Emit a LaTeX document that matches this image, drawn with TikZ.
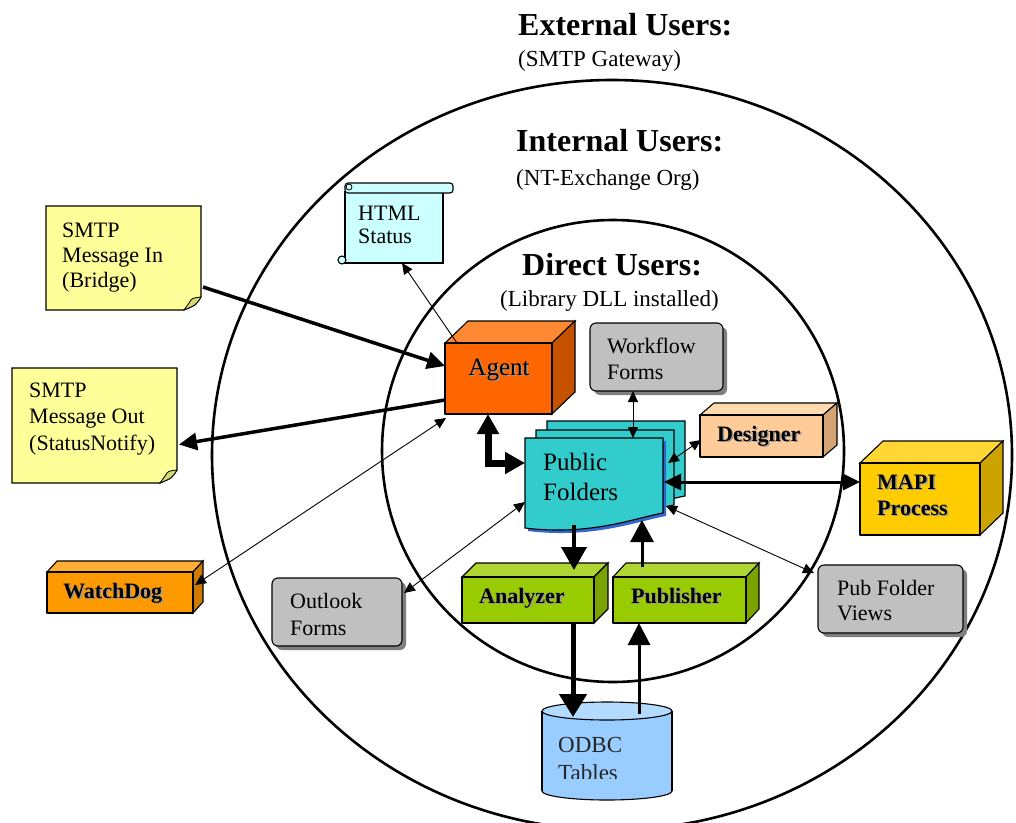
\documentclass[tikz,border=0pt]{standalone}
\usepackage{fontspec}
\setmainfont{Liberation Serif}
\usetikzlibrary{arrows.meta,calc,shadows}
\pgfdeclarelayer{bg}
\pgfdeclarelayer{shapes}
\pgfsetlayers{bg,shapes,main}
\definecolor{noteyellow}{HTML}{FFFF99}
\definecolor{notefold}{HTML}{D6D66B}
\definecolor{htmlcyan}{HTML}{CCFFFF}
\definecolor{agentfront}{HTML}{FF6600}
\definecolor{agenttop}{HTML}{FF8833}
\definecolor{agentside}{HTML}{C65200}
\definecolor{boxgray}{HTML}{C0C0C0}
\definecolor{shadowgray}{HTML}{7F7F7F}
\definecolor{desfront}{HTML}{FFCC99}
\definecolor{destop}{HTML}{FFD9B0}
\definecolor{desside}{HTML}{D4A475}
\definecolor{pfteal}{HTML}{33CCCC}
\definecolor{pfshadow}{HTML}{3366CC}
\definecolor{mapifront}{HTML}{FFCC00}
\definecolor{mapitop}{HTML}{FFD633}
\definecolor{mapiside}{HTML}{CCA300}
\definecolor{grnfront}{HTML}{99CC00}
\definecolor{grntop}{HTML}{B0D633}
\definecolor{grnside}{HTML}{7AA300}
\definecolor{wdfront}{HTML}{FF9900}
\definecolor{wdtop}{HTML}{FFAD33}
\definecolor{wdside}{HTML}{CC7A00}
\definecolor{odbcblue}{HTML}{99CCFF}
\definecolor{odbctop}{HTML}{B3DAFF}
\newcommand\shd[1]{\leavevmode\rlap{\kern1.5pt\raisebox{-1.5pt}{\textcolor{black!40}{#1}}}#1}
\newcommand\cubefaces[5]{%
  \begin{pgfonlayer}{shapes}
  \filldraw[face,fill=#4] (#1.north west) -- ($(#1.north west)+(#2,-#3)$) -- ($(#1.north east)+(#2,-#3)$) -- (#1.north east) -- cycle;
  \filldraw[face,fill=#5] (#1.north east) -- ($(#1.north east)+(#2,-#3)$) -- ($(#1.south east)+(#2,-#3)$) -- (#1.south east) -- cycle;
  \end{pgfonlayer}}
\newcommand\notefill[1]{%
  \begin{pgfonlayer}{shapes}
  \filldraw[face,fill=noteyellow] (#1.north west) -- (#1.north east) -- ($(#1.south east)+(0,-13)$) .. controls ($(#1.south east)+(-5,-5)$) .. ($(#1.south east)+(-17,0)$) -- (#1.south west) -- cycle;
  \filldraw[face,line width=0.8pt,fill=notefold] ($(#1.south east)+(0,-13)$) .. controls ($(#1.south east)+(-9,-12)$) .. ($(#1.south east)+(-12,-7)$) .. controls ($(#1.south east)+(-14,-4)$) .. ($(#1.south east)+(-17,0)$) .. controls ($(#1.south east)+(-5,-5)$) .. ($(#1.south east)+(0,-13)$) -- cycle;
  \end{pgfonlayer}}
\begin{document}
\begin{tikzpicture}[x=1pt,y=-1pt,line join=round,
  face/.style={draw=black,line width=1.1pt},
  frontbox/.style={face,inner sep=0pt,outer sep=0pt},
  holder/.style={inner sep=0pt,outer sep=0pt},
  graybox/.style={frontbox,fill=boxgray,rounded corners=6pt,
    drop shadow={shadow xshift=4pt,shadow yshift=-4pt,fill=shadowgray,opacity=1}},
  lbl/.style={font=\fontsize{22}{26}\selectfont,align=left,inner sep=0pt,anchor=base west},
  blbl/.style={font=\fontsize{22}{26}\selectfont\bfseries,align=left,inner sep=0pt,anchor=base west},
  head/.style={font=\fontsize{32}{36}\selectfont\bfseries,inner sep=0pt,anchor=base west},
  sub/.style={font=\fontsize{23}{26}\selectfont,inner sep=0pt,anchor=base west},
  ring/.style={line width=2.6pt},
  thin/.style={line width=0.9pt},
  sarr/.style={thin,-{Triangle[length=11pt,width=10pt]}},
  dsarr/.style={thin,{Triangle[length=11pt,width=10pt]}-{Triangle[length=11pt,width=10pt]}}]
\useasboundingbox (0,0) rectangle (1016,822);

% rings
\begin{pgfonlayer}{bg}
\draw[ring] (612,455) ellipse [x radius=400, y radius=375];
\draw[ring] (613,451) circle [radius=231];
\end{pgfonlayer}

% headings
\node[head] (ext) at (518,35) {External Users:};
\node[sub] (exts) at (518,66) {(SMTP Gateway)};
\node[head] (int) at (516,151) {Internal Users:};
\node[sub] (ints) at (516,185) {(NT-Exchange Org)};
\node[head] (dir) at (522,275) {Direct Users:};
\node[sub] (dirs) at (500,306) {(Library DLL installed)};

% notes (multi-line nodes: base = baseline of the last line)
\node[holder,minimum width=155pt,minimum height=104pt] (smtpin) at (123.5,258) {};
\notefill{smtpin}
\node[lbl,font=\fontsize{22}{25}\selectfont] (smtpint) at (62,287) {SMTP\\Message In\\(Bridge)};
\node[holder,minimum width=165pt,minimum height=115pt] (smtpout) at (94.5,425.5) {};
\notefill{smtpout}
\node[lbl,font=\fontsize{22}{26.5}\selectfont] (smtpoutt) at (29,450) {SMTP\\Message Out\\(StatusNotify)};

% HTML scroll
\node[holder,minimum width=98pt,minimum height=71pt] (html) at (394,227.5) {};
\begin{pgfonlayer}{shapes}
\filldraw[face,fill=htmlcyan] (html.north west) rectangle (html.south east);
\filldraw[face,fill=htmlcyan,rounded corners=3pt] ($(html.north west)+(0,-9)$) rectangle ($(html.north east)+(10,1)$);
\draw[face,line width=0.8pt] ($(html.north west)+(4,-5)$) circle [radius=3];
\filldraw[face,fill=htmlcyan] ($(html.south west)+(-3,-3)$) circle [radius=4];
\end{pgfonlayer}
\node[lbl,font=\fontsize{22}{23}\selectfont] (htmlt) at (358,243) {HTML\\Status};

% Agent
\node[frontbox,fill=agentfront,minimum width=107pt,minimum height=71pt] (agent) at (498.5,378.5) {};
\cubefaces{agent}{23}{22}{agenttop}{agentside}
\node[lbl,font=\fontsize{25}{28}\selectfont,anchor=base] (agentt) at (499,375) {\shd{Agent}};

% Workflow forms
\node[graybox,minimum width=133pt,minimum height=68pt] (workflow) at (656.5,357) {};
\node[lbl] (workflowt) at (607,379) {Workflow\\Forms};

% Designer
\node[frontbox,fill=desfront,minimum width=123pt,minimum height=42pt] (designer) at (761.5,436) {};
\cubefaces{designer}{14}{12}{destop}{desside}
\node[blbl] (designert) at (717,441) {\shd{Designer}};

% Public folders
\node[holder,minimum width=138pt,minimum height=90pt] (pf) at (594,483) {};
\begin{pgfonlayer}{shapes}
\filldraw[face,fill=pfteal] (547,421) -- (685,421) -- (685,496) .. controls (657,501) and (612,519) .. (547,511) -- cycle;
\filldraw[face,fill=pfteal] (536,430) -- (674,430) -- (674,505) .. controls (646,510) and (601,528) .. (536,520) -- cycle;
\fill[pfshadow] (528,441) -- (666,441) -- (666,516) .. controls (638,521) and (593,539) .. (528,531) -- cycle;
\filldraw[face,fill=pfteal] (525,438) -- (663,438) -- (663,513) .. controls (635,518) and (590,536) .. (525,528) -- cycle;
\end{pgfonlayer}
\node[lbl,font=\fontsize{25}{30}\selectfont] (pft) at (543,500) {Public\\Folders};

% MAPI
\node[frontbox,fill=mapifront,minimum width=120pt,minimum height=72pt] (mapi) at (920,499) {};
\cubefaces{mapi}{23}{22}{mapitop}{mapiside}
\node[blbl] (mapit) at (877,515) {\shd{MAPI}\\\shd{Process}};

% Pub folder views
\node[graybox,minimum width=145pt,minimum height=68pt] (pfviews) at (890.5,599) {};
\node[lbl,font=\fontsize{22}{25}\selectfont] (pfviewst) at (837,620) {Pub Folder\\Views};

% Analyzer, Publisher
\node[frontbox,fill=grnfront,minimum width=132pt,minimum height=46pt] (analyzer) at (528,600) {};
\cubefaces{analyzer}{14}{14}{grntop}{grnside}
\node[blbl] (analyzert) at (479,603) {\shd{Analyzer}};
\node[frontbox,fill=grnfront,minimum width=133pt,minimum height=46pt] (publisher) at (679.5,600) {};
\cubefaces{publisher}{13}{14}{grntop}{grnside}
\node[blbl] (publishert) at (631,603) {\shd{Publisher}};

% ODBC
\node[holder,minimum width=130pt,minimum height=98pt] (odbc) at (607,751) {};
\begin{pgfonlayer}{shapes}
\fill[odbcblue] (542,711) rectangle (672,791);
\fill[odbcblue] (607,791) ellipse [x radius=65, y radius=9];
\draw[face] (542,711) -- (542,791);
\draw[face] (672,711) -- (672,791);
\begin{scope}
\clip (530,791) rectangle (690,808);
\draw[face] (607,791) ellipse [x radius=65, y radius=9];
\end{scope}
\filldraw[face,fill=odbctop] (607,711) ellipse [x radius=65, y radius=9];
\end{pgfonlayer}
\begin{scope}
\clip (542,722) rectangle (672,778);
\node[lbl,font=\fontsize{23}{28}\selectfont,text=black!85] (odbct) at (558,780) {ODBC\\Tables};
\end{scope}

% WatchDog
\node[frontbox,fill=wdfront,minimum width=146pt,minimum height=41pt] (watchdog) at (120,592.5) {};
\cubefaces{watchdog}{10}{11}{wdtop}{wdside}
\node[blbl] (watchdogt) at (63,598) {\shd{WatchDog}};

% Outlook forms
\node[graybox,minimum width=130pt,minimum height=68pt] (outlook) at (337,612) {};
\node[lbl,font=\fontsize{22}{27}\selectfont] (outlookt) at (290,635) {Outlook\\Forms};

% connectors
\draw[line width=3.5pt,-{Triangle[length=18pt,width=17pt]}] ($(smtpin.south east)+(2,-23)$) -- ($(agent.north west)+(0,23)$);
\draw[line width=3.5pt,-{Triangle[length=18pt,width=17pt]}] ($(agent.south west)+(0,-14)$) -- ($(smtpout.east)+(2,19)$);
\draw[sarr] ($(agent.north west)+(12,0)$) -- ($(html.south)+(8,0)$);
\draw[dsarr] ($(watchdog.north east)+(2,13)$) -- ($(agent.south west)+(1,4)$);
\draw[line width=7pt,line join=miter,{Triangle[length=20pt,width=21pt]}-{Triangle[length=20pt,width=21pt]}] ($(agent.south west)+(43,0)$) |- ($(pf.north west)+(0,25)$);
\draw[dsarr] ($(workflow.south west)+(43,0)$) -- ($(pf.north west)+(108,0)$);
\draw[dsarr] ($(designer.west)+(1,4)$) -- ($(pf.north east)+(5,25)$);
\draw[line width=3pt,{Triangle[length=17pt,width=16pt]}-{Triangle[length=17pt,width=16pt]}] ($(pf.north east)+(1,44)$) -- ($(mapi.north west)+(0,19)$);
\draw[line width=4pt,-{Triangle[length=23pt,width=25pt]}] ($(pf.south west)+(49,-3)$) -- ($(analyzer.north west)+(112,-7)$);
\draw[line width=3pt,-{Triangle[length=22pt,width=23pt]}] ($(publisher.north west)+(29,-10)$) -- ($(pf.south west)+(117,-8)$);
\draw[line width=5pt,-{Triangle[length=23pt,width=27pt]}] ($(analyzer.south west)+(111,0)$) -- ($(odbc.north west)+(31,15)$);
\draw[line width=3pt,-{Triangle[length=22pt,width=22pt]}] ($(odbc.north west)+(97,12)$) -- ($(publisher.south west)+(26,0)$);
\draw[dsarr] ($(outlook.north east)+(2,15)$) -- ($(pf.north west)+(0,64)$);
\draw[dsarr] ($(pfviews.north west)+(-4,8)$) -- ($(pf.north east)+(3,68)$);
\end{tikzpicture}
\end{document}
